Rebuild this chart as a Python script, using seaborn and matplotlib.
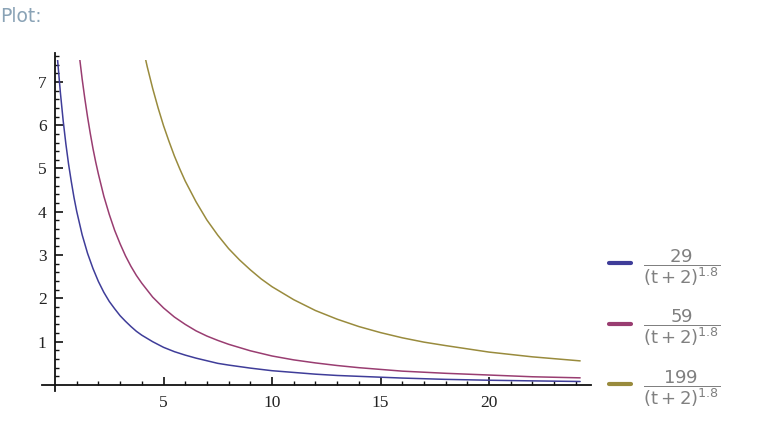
import numpy as np
import pandas as pd
import matplotlib
matplotlib.use("Agg")
import matplotlib.pyplot as plt
from matplotlib.lines import Line2D
from matplotlib.patches import Rectangle
from matplotlib.ticker import FixedLocator
import seaborn as sns

# -----------------------------
# Data
# -----------------------------
t_blue = [0, 0.125, 0.25, 0.375, 0.5, 0.625, 0.75, 0.875, 1, 1.25, 1.5, 1.75,
          2, 2.25, 2.5, 2.75, 3, 3.25, 3.5, 3.75, 4, 4.5, 5, 5.5, 6, 6.5, 7, 7.5,
          8, 9, 10, 11, 12, 13, 14, 15, 16, 18, 20, 22, 24.2]
y_blue = [8.33, 7.47, 6.74, 6.11, 5.57, 5.10, 4.70, 4.33, 4.01, 3.47, 3.04, 2.69,
          2.39, 2.14, 1.93, 1.76, 1.60, 1.47, 1.35, 1.24, 1.15, 1.00, 0.87, 0.77,
          0.69, 0.62, 0.56, 0.50, 0.46, 0.39, 0.33, 0.29, 0.25, 0.22, 0.20, 0.18,
          0.16, 0.13, 0.11, 0.095, 0.081]

t_purple = [1, 1.125, 1.25, 1.375, 1.5, 1.625, 1.75, 1.875, 2, 2.25, 2.5, 2.75,
            3, 3.25, 3.5, 3.75, 4, 4.5, 5, 5.5, 6, 6.5, 7, 7.5, 8, 9, 10, 11, 12,
            13, 14, 15, 16, 18, 20, 22, 24.2]
y_purple = [8.17, 7.59, 7.07, 6.61, 6.19, 5.81, 5.46, 5.15, 4.87, 4.36, 3.94, 3.57,
            3.26, 2.98, 2.74, 2.53, 2.35, 2.03, 1.78, 1.57, 1.40, 1.25, 1.13, 1.03,
            0.94, 0.79, 0.67, 0.58, 0.51, 0.45, 0.40, 0.36, 0.32, 0.27, 0.23, 0.19,
            0.165]

t_olive = [4, 4.25, 4.5, 4.75, 5, 5.25, 5.5, 5.75, 6, 6.5, 7, 7.5, 8, 8.5, 9, 9.5,
           10, 11, 12, 13, 14, 15, 16, 17, 18, 20, 22, 24.2]
y_olive = [7.91, 7.35, 6.85, 6.40, 5.99, 5.63, 5.29, 4.99, 4.71, 4.23, 3.81, 3.46,
           3.15, 2.89, 2.66, 2.45, 2.27, 1.97, 1.72, 1.52, 1.35, 1.21, 1.09, 0.99,
           0.91, 0.76, 0.65, 0.557]

series_names = ["29", "59", "199"]
colors = ["#3f3d99", "#993d71", "#998b3d"]
x_major = [5, 10, 15, 20]
y_major = [1, 2, 3, 4, 5, 6, 7]

df = pd.concat([
    pd.DataFrame({"t": t_blue, "value": y_blue, "series": series_names[0]}),
    pd.DataFrame({"t": t_purple, "value": y_purple, "series": series_names[1]}),
    pd.DataFrame({"t": t_olive, "value": y_olive, "series": series_names[2]}),
])

# -----------------------------
# Figure
# -----------------------------
sns.set_style("white")
plt.rcParams["mathtext.fontset"] = "dejavusans"

fig = plt.figure(figsize=(7.62, 4.22), dpi=100)
ax = fig.add_axes([0.0551, 0.0723, 0.7205, 0.8014])

sns.lineplot(data=df, x="t", y="value", hue="series", hue_order=series_names,
             palette=colors, linewidth=1.1, errorbar=None, legend=False, ax=ax)

# curves are cut at 7.5 while the axis runs a bit higher
clip = Rectangle((-5, -5), 40, 12.5, transform=ax.transData)
for line in ax.lines:
    line.set_clip_path(clip)

ax.set_xlim(-0.6, 24.7)
ax.set_ylim(-0.15, 7.66)

for side in ["top", "right"]:
    ax.spines[side].set_visible(False)
ax.spines["left"].set_position(("data", 0))
ax.spines["bottom"].set_position(("data", 0))
for side in ["left", "bottom"]:
    ax.spines[side].set_linewidth(1.3)
    ax.spines[side].set_color("#111111")

ax.xaxis.set_major_locator(FixedLocator(x_major))
ax.yaxis.set_major_locator(FixedLocator(y_major))
ax.xaxis.set_minor_locator(FixedLocator(np.arange(1, 25)))
ax.yaxis.set_minor_locator(FixedLocator(np.arange(1, 39) * 0.2))

ax.tick_params(which="both", bottom=True, left=True, top=False, right=False)
ax.tick_params(which="major", direction="in", length=5.5, width=1.2,
               color="#111111", labelsize=12.5, labelcolor="#222222")
ax.tick_params(which="minor", direction="in", length=2.8, width=1.0, color="#111111")
ax.tick_params(axis="x", which="major", pad=7)
ax.tick_params(axis="y", which="major", pad=6)
for lab in ax.get_xticklabels() + ax.get_yticklabels():
    lab.set_family("Liberation Serif")

ax.set_xlabel("")
ax.set_ylabel("")
ax.grid(False)

fig.text(0.0, 0.962, "Plot:", fontsize=13.5, color="#8aa3b6",
         family="DejaVu Sans", ha="left", va="center")

# legend with fractions
handles = [Line2D([0], [0], color=c, lw=3) for c in colors]
labels = [r"$\dfrac{%s}{(\mathrm{t}+2)^{1.8}}$" % n for n in series_names]
leg = fig.legend(handles, labels, loc="center left", bbox_to_anchor=(0.799, 0.223),
                 frameon=False, fontsize=13, handlelength=1.2, handletextpad=0.7,
                 labelspacing=1.09, borderpad=0, borderaxespad=0)
for txt in leg.get_texts():
    txt.set_color("#808080")

fig.savefig("out.png", dpi=100)
